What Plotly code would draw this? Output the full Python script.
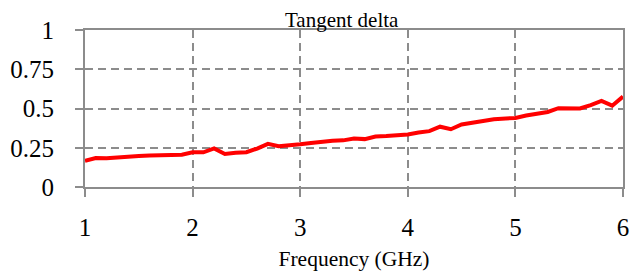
import plotly.graph_objects as go

freq_ghz = [1.0, 1.1, 1.2, 1.3, 1.4, 1.5, 1.6, 1.7, 1.8, 1.9,
            2.0, 2.1, 2.2, 2.3, 2.4, 2.5, 2.6, 2.7, 2.8, 2.9,
            3.0, 3.1, 3.2, 3.3, 3.4, 3.5, 3.6, 3.7, 3.8, 3.9,
            4.0, 4.1, 4.2, 4.3, 4.4, 4.5, 4.6, 4.7, 4.8, 4.9,
            5.0, 5.1, 5.2, 5.3, 5.4, 5.5, 5.6, 5.7, 5.8, 5.9, 6.0]
tan_delta = [0.166, 0.185, 0.183, 0.190, 0.195, 0.198, 0.201, 0.202, 0.204, 0.205,
             0.221, 0.221, 0.246, 0.210, 0.218, 0.222, 0.245, 0.275, 0.260, 0.264,
             0.272, 0.280, 0.290, 0.295, 0.297, 0.309, 0.305, 0.322, 0.325, 0.328,
             0.335, 0.347, 0.356, 0.384, 0.368, 0.398, 0.406, 0.420, 0.432, 0.436,
             0.440, 0.455, 0.465, 0.478, 0.502, 0.500, 0.500, 0.522, 0.548, 0.518, 0.576]

x_ticks = [1, 2, 3, 4, 5, 6]
y_ticks = [0, 0.25, 0.5, 0.75, 1]
y_tick_labels = ["0", "0.25", "0.5", "0.75", "1"]

FONT = "Liberation Serif, Times New Roman, serif"
GREY = "#8c8c8c"

# page body has an 8px default margin; the figure is sized/placed to compensate
W, H, OFF = 636, 265, 8

fig = go.Figure()
fig.add_trace(go.Scatter(x=freq_ghz, y=tan_delta, mode="lines",
                         line=dict(color="#ff0000", width=4), showlegend=False))

fig.update_layout(
    width=W, height=H,
    margin=dict(l=85 - OFF, r=W - (623 - OFF), t=30 - OFF, b=H - (187 - OFF), autoexpand=False),
    paper_bgcolor="white", plot_bgcolor="white",
    font=dict(family=FONT, color="black"),
    title=dict(text="Tangent delta", font=dict(size=21, family=FONT, color="black"),
               xref="container", x=(341.7 - OFF) / W, xanchor="center",
               yref="container", y=1 - (19.7 - OFF) / H, yanchor="middle"),
)
fig.update_xaxes(
    range=[1, 6], tickvals=x_ticks, ticktext=[str(v) for v in x_ticks],
    tickfont=dict(size=25, family=FONT, color="black"),
    showline=True, linecolor=GREY, linewidth=2, mirror=True,
    ticks="outside", ticklen=8, tickcolor=GREY, tickwidth=2,
    ticklabelstandoff=9, automargin=False,
    showgrid=True, gridcolor=GREY, gridwidth=1.5, griddash="8px,5px",
    zeroline=False,
    title=dict(text="Frequency (GHz)", font=dict(size=21.5, family=FONT, color="black"), standoff=11),
)
fig.update_yaxes(
    range=[0, 1], tickvals=y_ticks, ticktext=y_tick_labels,
    tickfont=dict(size=25, family=FONT, color="black"),
    showline=True, linecolor=GREY, linewidth=2, mirror=True,
    ticks="outside", ticklen=8, tickcolor=GREY, tickwidth=2,
    ticklabelstandoff=16, automargin=False,
    showgrid=True, gridcolor=GREY, gridwidth=1.5, griddash="8px,5px",
    zeroline=False,
)

fig.write_html("out.html")
